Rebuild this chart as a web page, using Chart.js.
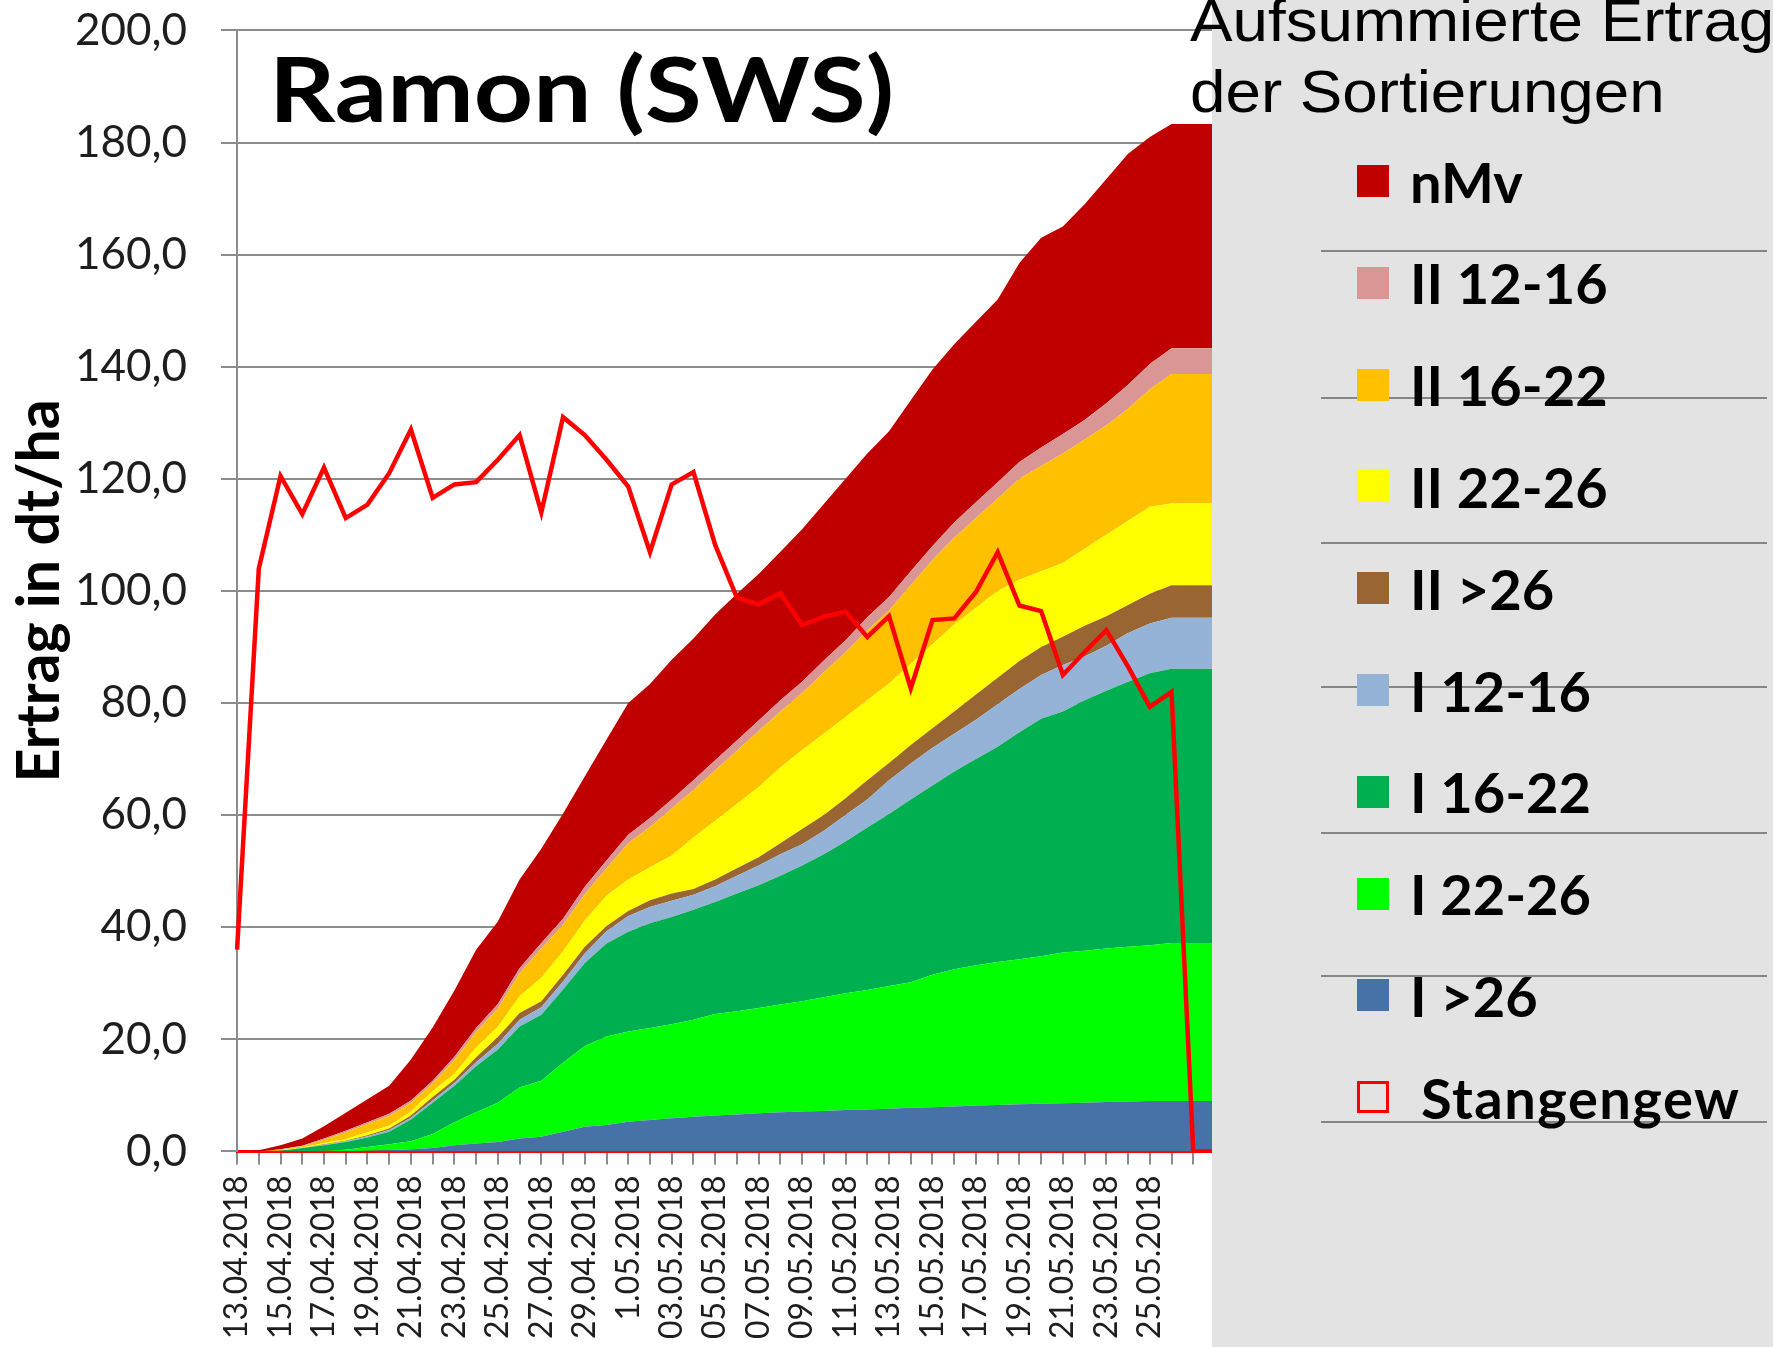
<!DOCTYPE html>
<html>
<head>
<meta charset="utf-8">
<script src="https://cdn.jsdelivr.net/npm/chart.js@4.4.1/dist/chart.umd.min.js"></script>
<style>
  html, body { margin: 0; padding: 0; background: #fff; }
  #page { position: relative; width: 1773px; height: 1347px; overflow: hidden; background: #fff; }
  #chart { position: absolute; left: 0; top: -30px; }
  #panel { position: absolute; left: 1212px; top: 0; width: 561px; height: 1347px; background: #e3e3e3; }
  .rule { position: absolute; left: 109px; width: 446px; height: 2px; background: #858585; }
  .item { position: absolute; left: 145px; height: 60px; display: flex; align-items: center;
          font-family: Lato, sans-serif; font-weight: bold; font-size: 56px; color: #000; white-space: nowrap; }
  .box { width: 32px; height: 32px; margin-right: 21px; box-sizing: border-box; flex: none; }
  #heading { position: absolute; left: 1190px; top: -14px; font-family: "Liberation Sans", Arial, sans-serif;
             font-size: 59px; line-height: 71px; color: #000; white-space: nowrap;
             transform: scaleX(1.08); transform-origin: 0 0; }
</style>
</head>
<body>
<div id="page">
  <canvas id="chart" width="1773" height="1380"></canvas>
  <div id="panel"></div>
  <div id="heading">Aufsummierte Ertrag<br>der Sortierungen</div>
</div>
<script>
// dates on the x axis (last two rows have no date)
var categories = ['13.04.2018','14.04.2018','15.04.2018','16.04.2018','17.04.2018','18.04.2018','19.04.2018',
  '20.04.2018','21.04.2018','22.04.2018','23.04.2018','24.04.2018','25.04.2018','26.04.2018','27.04.2018',
  '28.04.2018','29.04.2018','30.04.2018','1.05.2018','02.05.2018','03.05.2018','04.05.2018','05.05.2018',
  '06.05.2018','07.05.2018','08.05.2018','09.05.2018','10.05.2018','11.05.2018','12.05.2018','13.05.2018',
  '14.05.2018','15.05.2018','16.05.2018','17.05.2018','18.05.2018','19.05.2018','20.05.2018','21.05.2018',
  '22.05.2018','23.05.2018','24.05.2018','25.05.2018','26.05.2018','',''];

// Ertrag per Sortierung (dt/ha), stacked from bottom to top
var iGt26   = [0,0,0,0,0,0,0.1,0.2,0.4,0.6,1.1,1.4,1.7,2.3,2.6,3.5,4.4,4.7,5.3,5.6,5.9,6.2,6.4,6.6,6.8,7.0,7.1,7.2,7.4,7.5,7.6,7.8,7.9,8.0,8.2,8.3,8.4,8.5,8.6,8.7,8.8,8.9,9.0,9.0,9.0,9.0];
var i2226   = [0,0,0,0,0.1,0.3,0.7,1.1,1.4,2.5,4.1,5.6,7.0,9.1,10.0,12.3,14.4,15.8,16.1,16.4,16.8,17.3,18.1,18.4,18.8,19.2,19.7,20.3,20.8,21.3,21.9,22.4,23.6,24.5,25.0,25.5,25.9,26.3,26.9,27.1,27.4,27.6,27.8,28.2,28.2,28.2];
var i1622   = [0,0,0.1,0.6,1.0,1.4,1.7,2.2,3.9,5.6,6.5,8.2,9.5,10.9,11.8,13.1,14.8,16.6,17.8,18.7,19.1,19.6,20.0,21.0,21.9,23.0,24.2,25.5,27.1,29.0,30.7,32.6,33.8,35.3,36.8,38.4,40.5,42.4,43.0,44.7,46.0,47.3,48.5,48.9,48.9,48.9];
var i1216   = [0,0,0,0,0.1,0.1,0.2,0.3,0.3,0.4,0.5,0.7,1.0,1.2,1.3,1.4,1.7,2.2,2.8,2.9,2.9,2.7,2.8,3.2,3.5,3.8,3.8,4.2,4.7,5.0,6.0,6.4,6.7,6.7,7.0,7.6,7.7,7.8,8.3,7.8,8.0,8.7,8.9,9.1,9.1,9.1];
var iiGt26  = [0,0,0,0,0.1,0.1,0.2,0.3,0.4,0.6,0.6,0.9,1.2,1.2,1.1,1.2,1.2,0.9,0.9,1.2,1.3,1.0,1.2,1.3,1.5,2.0,2.7,2.8,3.0,3.4,3.1,3.3,3.5,4.0,4.5,4.7,5.0,5.0,5.0,5.5,5.3,5.0,5.3,5.8,5.8,5.8];
var ii2226  = [0,0,0.1,0.1,0.2,0.3,0.5,0.5,0.7,1.1,1.0,1.8,1.8,3.0,4.2,4.2,4.7,5.4,5.6,5.9,6.8,9.2,10.5,11.5,12.5,13.5,14.1,14.5,14.5,14.3,14.2,14.5,15.0,15.5,15.5,15.5,14.5,13.5,13.2,13.7,14.5,15.0,15.5,14.6,14.6,14.6];
var ii1622  = [0,0,0.1,0.2,0.6,1.2,1.5,1.7,1.6,1.3,2.5,2.7,3.3,4.1,5.2,4.7,4.7,4.9,6.5,7.2,8.4,8.5,9.0,9.5,10.0,10.0,10.2,11.0,11.5,12.5,13.0,14.0,15.0,15.5,16.0,16.5,18.0,18.8,19.5,19.5,19.5,20.0,21.0,23.1,23.1,23.1];
var ii1216  = [0,0,0.1,0.1,0.2,0.3,0.3,0.4,0.4,0.5,0.6,0.7,0.8,0.9,1.0,1.1,1.3,1.4,1.5,1.6,1.6,1.7,1.8,1.8,1.9,2.0,2.0,2.1,2.2,2.3,2.4,2.5,2.5,2.7,2.8,2.9,3.0,3.3,3.5,3.5,4.0,4.3,4.5,4.6,4.6,4.6];
var nMv     = [0,0.2,0.7,1.3,2.2,3.2,4.1,5.0,7.3,9.5,11.8,14.0,14.7,15.8,16.8,18.8,19.7,21.6,23.5,23.9,24.9,25.3,26.0,26.2,26.1,26.5,27.2,27.9,28.8,29.2,29.6,30.5,31.5,31.8,32.2,32.6,35.5,37.4,37.0,38.5,40.0,41.2,40.5,40.0,40.0,40.0];

// Stangengewicht
var stangengew = [36,104,120.5,113.7,122,113,115.4,121,128.8,116.6,119,119.4,123.4,127.8,114,131,127.8,123.4,118.6,106.9,119,121.2,108.2,98.8,97.6,99.6,93.9,95.4,96.3,91.8,95.5,82.6,94.8,95.1,99.8,106.9,97.4,96.4,85,89.1,93,86.5,79.3,82,0,0];

var yTicks = [0,20,40,60,80,100,120,140,160,180,200];

function area(label, data, color, fill) {
  return { type: 'line', label: label, data: data, stack: 'sum', fill: fill, order: 1,
           backgroundColor: color, borderColor: color, borderWidth: 0, pointRadius: 0, tension: 0 };
}

Chart.defaults.font.family = 'Lato';

var titlePlugin = {
  id: 'chartTitle',
  afterDraw: function (chart) {
    var ctx = chart.ctx;
    var text = 'Ramon (SWS)';
    ctx.save();
    ctx.font = 'bold 89px Lato';
    ctx.fillStyle = '#000';
    ctx.textBaseline = 'alphabetic';
    var w = ctx.measureText(text).width;
    ctx.translate(chart.chartArea.left + 32, chart.chartArea.top + 92);
    ctx.scale(625 / w, 1);
    ctx.fillText(text, 0, 0);
    ctx.restore();
  }
};

var chart = new Chart(document.getElementById('chart'), {
  type: 'line',
  data: {
    labels: categories,
    datasets: [
      { type: 'line', label: 'Stangengew', data: stangengew, stack: 'line', fill: false, order: 0,
        borderColor: '#ff0000', backgroundColor: '#ff0000', borderWidth: 4.5, pointRadius: 0, tension: 0 },
      area('I >26', iGt26, '#4672a8', 'origin'),
      area('I 22-26', i2226, '#00ff00', '-1'),
      area('I 16-22', i1622, '#00b050', '-1'),
      area('I 12-16', i1216, '#95b3d7', '-1'),
      area('II >26', iiGt26, '#996633', '-1'),
      area('II 22-26', ii2226, '#ffff00', '-1'),
      area('II 16-22', ii1622, '#ffc000', '-1'),
      area('II 12-16', ii1216, '#d99694', '-1'),
      area('nMv', nMv, '#c00000', '-1')
    ]
  },
  options: {
    responsive: false,
    animation: false,
    layout: { padding: { left: 10, right: 558, top: 0, bottom: 0 } },
    plugins: { legend: { display: false }, tooltip: { enabled: false } },
    scales: {
      x: {
        z: 1,
        offset: false,
        grid: { drawOnChartArea: false, drawTicks: true, tickLength: 13, color: '#8c8c8c', lineWidth: 2 },
        border: { color: '#ff0000', width: 3 },
        ticks: {
          autoSkip: false, minRotation: 90, maxRotation: 90, padding: 11, color: '#1e1e1e',
          font: { size: 32 },
          callback: function (v, i) { return i % 2 === 0 ? categories[i] : ''; }
        }
      },
      y: {
        stacked: true,
        min: yTicks[0], max: yTicks[yTicks.length - 1],
        afterBuildTicks: function (axis) { axis.ticks = yTicks.map(function (v) { return { value: v }; }); },
        grid: { color: '#8c8c8c', lineWidth: 2, tickLength: 16 },
        border: { color: '#8c8c8c', width: 2 },
        ticks: {
          padding: 34, color: '#1e1e1e', font: { size: 44 },
          callback: function (v) { return v.toFixed(1).replace('.', ','); }
        },
        title: { display: true, text: 'Ertrag in dt/ha', color: '#000',
                 font: { size: 59, weight: 'bold', lineHeight: 1 }, padding: { top: 0, bottom: -28 } }
      }
    }
  },
  plugins: [titlePlugin]
});

// legend panel on the right, built from the datasets
var panel = document.getElementById('panel');
[251, 398, 543, 687, 833, 976, 1122].forEach(function (y) {
  var r = document.createElement('div');
  r.className = 'rule';
  r.style.top = (y - 1) + 'px';
  panel.appendChild(r);
});
var items = chart.data.datasets.slice(1).reverse().concat([chart.data.datasets[0]]);
items.forEach(function (ds, i) {
  var it = document.createElement('div');
  it.className = 'item';
  it.style.top = (181 + i * 101.8 - 30) + 'px';
  var box = document.createElement('span');
  box.className = 'box';
  if (ds.stack === 'line') {
    box.style.border = '3px solid ' + ds.borderColor;
    box.style.marginRight = '32px';
    it.style.letterSpacing = '1.5px';
  } else {
    box.style.background = ds.backgroundColor;
  }
  it.appendChild(box);
  it.appendChild(document.createTextNode(ds.label));
  panel.appendChild(it);
});
</script>
</body>
</html>
